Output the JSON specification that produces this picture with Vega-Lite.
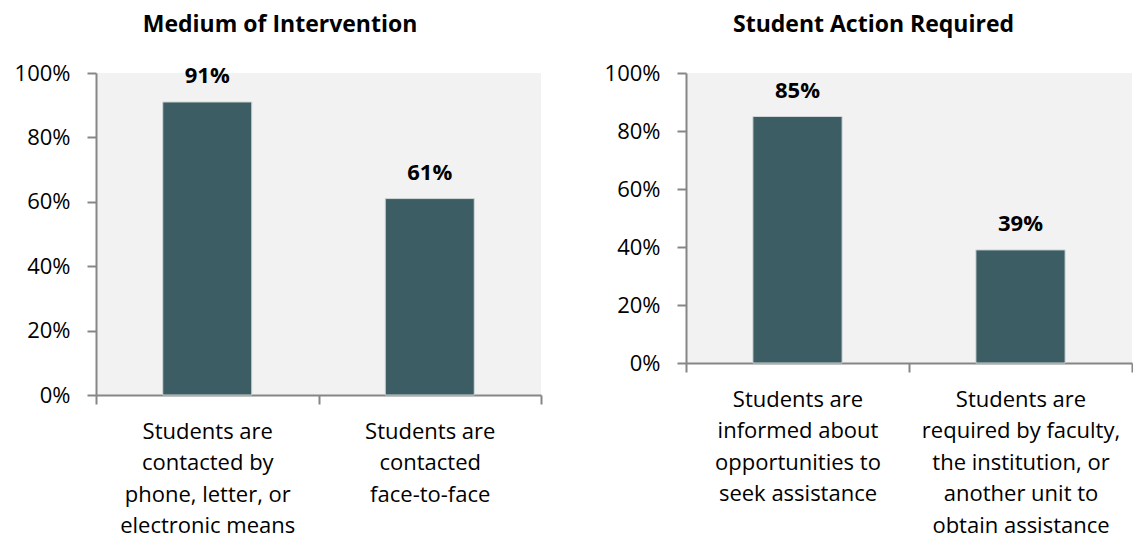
{
  "$schema": "https://vega.github.io/schema/vega-lite/v6.json",
  "padding": {"left": 14, "top": 14, "right": 0, "bottom": 0},
  "background": "white",
  "config": {
    "font": "Open Sans",
    "view": {"fill": "#F2F2F2", "stroke": null},
    "axis": {"domainColor": "#868686", "tickColor": "#868686", "domainWidth": 2, "tickWidth": 2, "tickSize": 9, "labelFont": "Open Sans", "labelFontSize": 22, "labelColor": "#000000", "grid": false},
    "title": {"font": "Open Sans", "fontSize": 23, "fontWeight": "bold", "color": "#000000", "anchor": "middle", "frame": "bounds", "offset": 25},
    "concat": {"spacing": 62}
  },
  "datasets": {
    "medium": [
      {"category": "Students are\ncontacted by\nphone, letter, or\nelectronic means", "value": 0.91},
      {"category": "Students are\ncontacted\nface-to-face", "value": 0.61}
    ],
    "action": [
      {"category": "Students are\ninformed about\nopportunities to\nseek assistance", "value": 0.85},
      {"category": "Students are\nrequired  by faculty,\nthe institution, or\nanother unit to\nobtain assistance", "value": 0.39}
    ]
  },
  "hconcat": [
    {
      "width": 445,
      "height": 322,
      "title": {"text": "Medium of Intervention", "dx": 2},
      "data": {"name": "medium"},
      "encoding": {
        "x": {"field": "category", "type": "nominal", "sort": null, "title": null, "scale": {"paddingInner": 0, "paddingOuter": 0}, "axis": {"labelAngle": 0, "labelExpr": "split(datum.label, '\\n')", "labelLineHeight": 31.5, "labelPadding": 17, "tickBand": "extent", "labelLimit": 400, "labelOverlap": false}},
        "y": {"field": "value", "type": "quantitative", "title": null, "scale": {"domain": [0, 1]}, "axis": {"values": [0, 0.2, 0.4, 0.6, 0.8, 1], "format": ".0%", "labelPadding": 17}}
      },
      "layer": [
        {"mark": {"type": "bar", "width": {"band": 0.4}, "color": "#3B5D63", "stroke": "#D0D6D6", "strokeWidth": 1}},
        {"mark": {"type": "text", "dy": -26, "fontSize": 22, "fontWeight": "bold", "font": "Open Sans", "color": "#000000", "baseline": "middle"},
         "encoding": {"text": {"field": "value", "type": "quantitative", "format": ".0%"}}}
      ]
    },
    {
      "width": 446,
      "height": 290,
      "title": {"text": "Student Action Required", "dx": 5},
      "data": {"name": "action"},
      "encoding": {
        "x": {"field": "category", "type": "nominal", "sort": null, "title": null, "scale": {"paddingInner": 0, "paddingOuter": 0}, "axis": {"labelAngle": 0, "labelExpr": "split(datum.label, '\\n')", "labelLineHeight": 31.5, "labelPadding": 17, "tickBand": "extent", "labelLimit": 400, "labelOverlap": false}},
        "y": {"field": "value", "type": "quantitative", "title": null, "scale": {"domain": [0, 1]}, "axis": {"values": [0, 0.2, 0.4, 0.6, 0.8, 1], "format": ".0%", "labelPadding": 17}}
      },
      "layer": [
        {"mark": {"type": "bar", "width": {"band": 0.4}, "color": "#3B5D63", "stroke": "#D0D6D6", "strokeWidth": 1}},
        {"mark": {"type": "text", "dy": -26, "fontSize": 22, "fontWeight": "bold", "font": "Open Sans", "color": "#000000", "baseline": "middle"},
         "encoding": {"text": {"field": "value", "type": "quantitative", "format": ".0%"}}}
      ]
    }
  ]
}
